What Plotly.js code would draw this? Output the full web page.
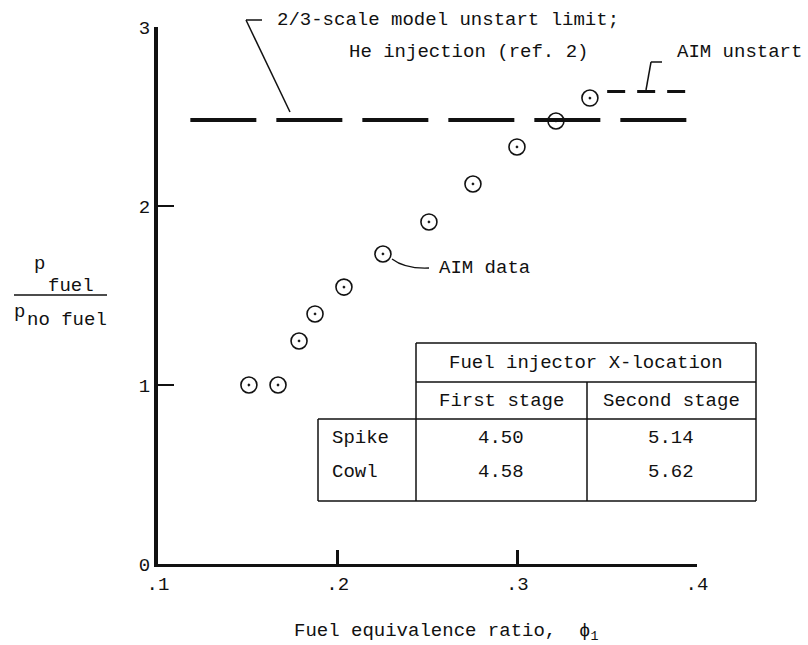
<!DOCTYPE html>
<html>
<head>
<meta charset="utf-8">
<script src="https://cdn.plot.ly/plotly-3.0.1.min.js"></script>
<style>html,body{margin:0;padding:0;background:#fff;}#chart{width:808px;height:645px;}</style>
</head>
<body>
<div id="chart"></div>
<script>
// ---- data ----
const aimPhi = [0.1506, 0.1668, 0.1785, 0.1874, 0.2035, 0.2252, 0.2508, 0.2753, 0.2998, 0.3215, 0.3404];
const aimRatio = [1.00, 1.00, 1.246, 1.397, 1.547, 1.732, 1.911, 2.123, 2.330, 2.475, 2.603];
const limitPhi = [0.118, 0.399];
const limitRatio = [2.48, 2.48];
const unstartPhi = [0.350, 0.399];
const unstartRatio = [2.64, 2.64];
const xTickVals = [0.1, 0.2, 0.3, 0.4];
const xTickText = ['.1', '.2', '.3', '.4'];
const yTickVals = [0, 1, 2, 3];
const yTickText = ['0', '1', '2', '3'];
const xTitle = 'Fuel equivalence ratio,\u00a0\u00a0\u03d5<sub>1</sub>';
const tableHeader = 'Fuel injector X-location';
const tableColumns = ['First stage', 'Second stage'];
const tableRows = ['Spike', 'Cowl'];
const tableFirst = ['4.50', '4.58'];
const tableSecond = ['5.14', '5.62'];
const limitLabel = ['2/3-scale model unstart limit;', 'He injection (ref. 2)'];
const unstartLabel = 'AIM unstart';
const dataLabel = 'AIM data';

// ---- layout helpers (plot area in pixels) ----
const L = 158, T = 27, W = 539, H = 537;
const px = x => (x - L) / W;
const py = y => (T + H - y) / H;
const FONT = 'Liberation Mono, DejaVu Sans Mono, monospace';
const f = (s) => ({family: FONT, size: s || 19, color: '#111'});

const traces = [
  {x: limitPhi, y: limitRatio, mode: 'lines', line: {color: '#111', width: 4, dash: '66px,20px'}, hoverinfo: 'skip'},
  {x: unstartPhi, y: unstartRatio, mode: 'lines', line: {color: '#111', width: 3, dash: '18px,12px'}, hoverinfo: 'skip'},
  {x: aimPhi, y: aimRatio, mode: 'markers', cliponaxis: false,
   marker: {symbol: 'circle-open-dot', size: 16, color: '#111', line: {width: 1.6, color: '#111'}}}
];

const ann = [];
function txt(text, x, y, xanchor, size) {
  ann.push({text: text, xref: 'paper', yref: 'paper', x: px(x), y: py(y), xanchor: xanchor || 'center', yanchor: 'middle', showarrow: false, font: f(size)});
}
txt(limitLabel[0], 275, 20, 'left');
txt(limitLabel[1], 347, 52, 'left');
txt(unstartLabel, 675, 52, 'left');
txt(dataLabel, 437, 268, 'left');
txt(tableHeader, 586, 363);
txt(tableColumns[0], 501, 401);
txt(tableColumns[1], 671, 401);
tableRows.forEach((r, i) => {
  const yy = 438 + i * 34;
  txt(r, 330, yy, 'left');
  txt(tableFirst[i], 501, yy);
  txt(tableSecond[i], 671, yy);
});
// axis titles
txt(xTitle, 446, 632);
txt('p', 40, 264);
txt('fuel', 71, 286);
txt('p', 19, 312);
txt('no fuel', 67, 320);

const shapes = [];
function seg(x0, y0, x1, y1, w) {
  shapes.push({type: 'line', xref: 'paper', yref: 'paper', x0: px(x0), y0: py(y0), x1: px(x1), y1: py(y1), line: {color: '#111', width: w || 1.5}});
}
// table
seg(416, 343, 756, 343); seg(416, 382, 756, 382); seg(318, 419, 756, 419); seg(318, 501, 756, 501);
seg(318, 419, 318, 501); seg(416, 343, 416, 501); seg(587, 382, 587, 501); seg(756, 343, 756, 501);
// leaders
seg(262, 20, 246, 20); seg(246, 20, 290, 112);
seg(662, 62, 651, 62); seg(651, 62, 646, 90);
shapes.push({type: 'path', xref: 'paper', yref: 'paper',
  path: `M ${px(392)},${py(259)} Q ${px(405)},${py(269)} ${px(429)},${py(268)}`, line: {color: '#111', width: 1.3}});
// fraction bar
seg(14, 295, 107, 295, 1.3);

const layout = {
  width: 808, height: 645,
  margin: {l: L, r: 808 - L - W, t: T, b: 645 - T - H, pad: 0},
  paper_bgcolor: '#fff', plot_bgcolor: '#fff', showlegend: false,
  xaxis: {range: [0.1, 0.4], tickvals: xTickVals, ticktext: xTickText, ticks: 'inside', ticklen: 14, tickwidth: 2.5, tickcolor: '#111',
          showline: true, linewidth: 3, linecolor: '#111', showgrid: false, zeroline: false, tickfont: f(19), fixedrange: true},
  yaxis: {range: [0, 3], tickvals: yTickVals, ticktext: yTickText, ticks: 'inside', ticklen: 16, tickwidth: 2.5, tickcolor: '#111',
          showline: true, linewidth: 4, linecolor: '#111', showgrid: false, zeroline: false, tickfont: f(19), fixedrange: true},
  annotations: ann, shapes: shapes
};
Plotly.newPlot('chart', traces, layout, {staticPlot: true});
</script>
</body>
</html>
